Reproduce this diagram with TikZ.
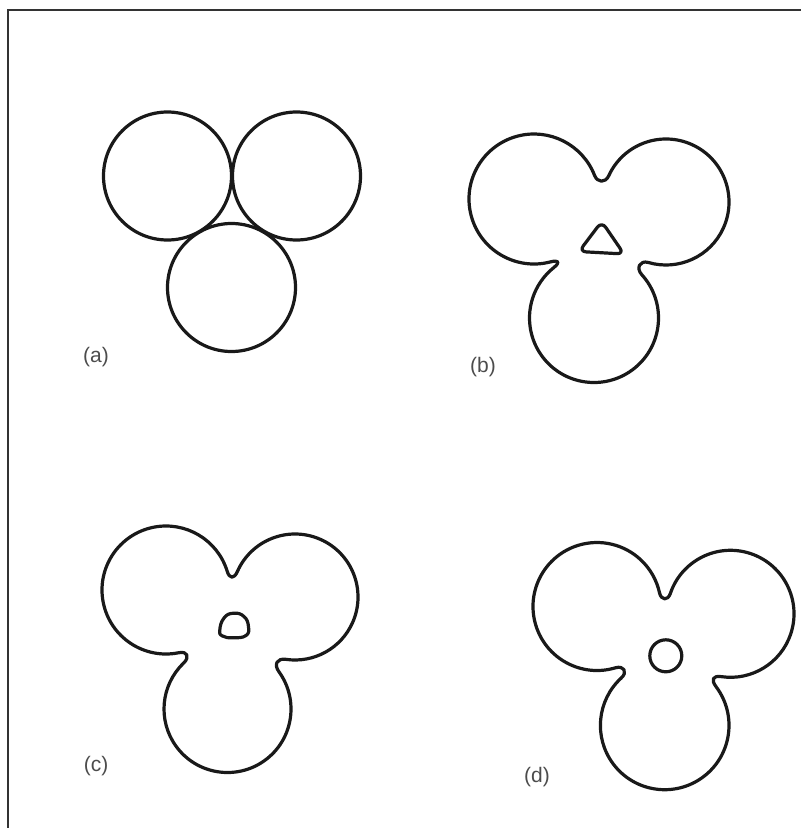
\documentclass[tikz,border=0pt]{standalone}
\usepackage{fontspec}
\setmainfont{Liberation Sans}
\usetikzlibrary{calc}

\tikzset{
  rim/.style={line width=3.2pt, draw=black!90, line join=round},
  tag/.style={font=\fontsize{21}{23}\selectfont, text=black!70, inner sep=0pt},
}

\begin{document}
\begin{tikzpicture}[x=1pt, y=-1pt]
  \useasboundingbox (0,0) rectangle (801,828);
  % frame, open at right and bottom
  \draw[line width=1.6pt, black!80] (8,828) -- (8,10) -- (801,10);

  % (a) three touching spheres
  \coordinate (aL) at (167.5,176);
  \coordinate (aR) at (296.5,176);
  \coordinate (aB) at (231.5,287.5);
  \draw[rim] (aL) circle[radius=64];
  \draw[rim] (aR) circle[radius=64];
  \draw[rim] (aB) circle[radius=64];
  \node[tag] (capa) at (96,357) {(a)};

  % (b) necks grown, triangular pore
  \coordinate (bL) at (534,199);
  \coordinate (bR) at (666,202);
  \coordinate (bB) at (594,318);
  \draw[rim] ($(bL)+(75.5:65)$) arc[start angle=75.5, end angle=338.7, radius=65]
    .. controls +(68.7:8) and +(114.5:8) .. ($(bR)+(204.5:63)$)
    arc[start angle=204.5, end angle=466.2, radius=63]
    .. controls +(196.2:9) and +(-132.2:9) .. ($(bB)+(-42.2:64.5)$)
    arc[start angle=-42.2, end angle=231.2, radius=64.5]
    .. controls +(321.2:9) and +(-14.5:9) .. ($(bL)+(75.5:65)$) -- cycle;
  \draw[rim, rounded corners=7pt] (601.7,221.5) -- (624,254) -- (579,251.5) -- cycle;
  \node[tag] (capb) at (483,367) {(b)};

  % (c) pore rounding off
  \coordinate (cL) at (166,590);
  \coordinate (cR) at (295,597);
  \coordinate (cB) at (227.5,709);
  \draw[rim] ($(cL)+(78.5:64)$) arc[start angle=78.5, end angle=343, radius=64]
    .. controls +(73:8) and +(113.7:8) .. ($(cR)+(203.7:63)$)
    arc[start angle=203.7, end angle=458.4, radius=63]
    .. controls +(188.4:9) and +(-125.9:9) .. ($(cB)+(-35.9:63.5)$)
    arc[start angle=-35.9, end angle=226.1, radius=63.5]
    .. controls +(316.1:9) and +(-11.5:9) .. ($(cL)+(78.5:64)$) -- cycle;
  \draw[rim] plot[smooth cycle, tension=0.8] coordinates {
    (233.5,613.2) (244,616.5) (248.5,626.7) (246,635.5)
    (233.5,637.8) (222.5,636) (219.8,630) (224,618)};
  \node[tag] (capc) at (96,766) {(c)};

  % (d) spherical pore
  \coordinate (dL) at (597,606.5);
  \coordinate (dR) at (730.5,613.8);
  \coordinate (dB) at (664.7,725.4);
  \draw[rim] ($(dL)+(73.4:64)$) arc[start angle=73.4, end angle=347.5, radius=64]
    .. controls +(77.5:8) and +(108.7:8) .. ($(dR)+(198.7:63.5)$)
    arc[start angle=198.7, end angle=458.2, radius=63.5]
    .. controls +(188.2:9) and +(-126.8:9) .. ($(dB)+(-36.8:64.3)$)
    arc[start angle=-36.8, end angle=227.5, radius=64.3]
    .. controls +(317.5:9) and +(-16.6:9) .. ($(dL)+(73.4:64)$) -- cycle;
  \coordinate (dH) at (665.8,655.8);
  \draw[rim] (dH) circle[radius=16];
  \node[tag] (capd) at (537,777) {(d)};
\end{tikzpicture}
\end{document}
